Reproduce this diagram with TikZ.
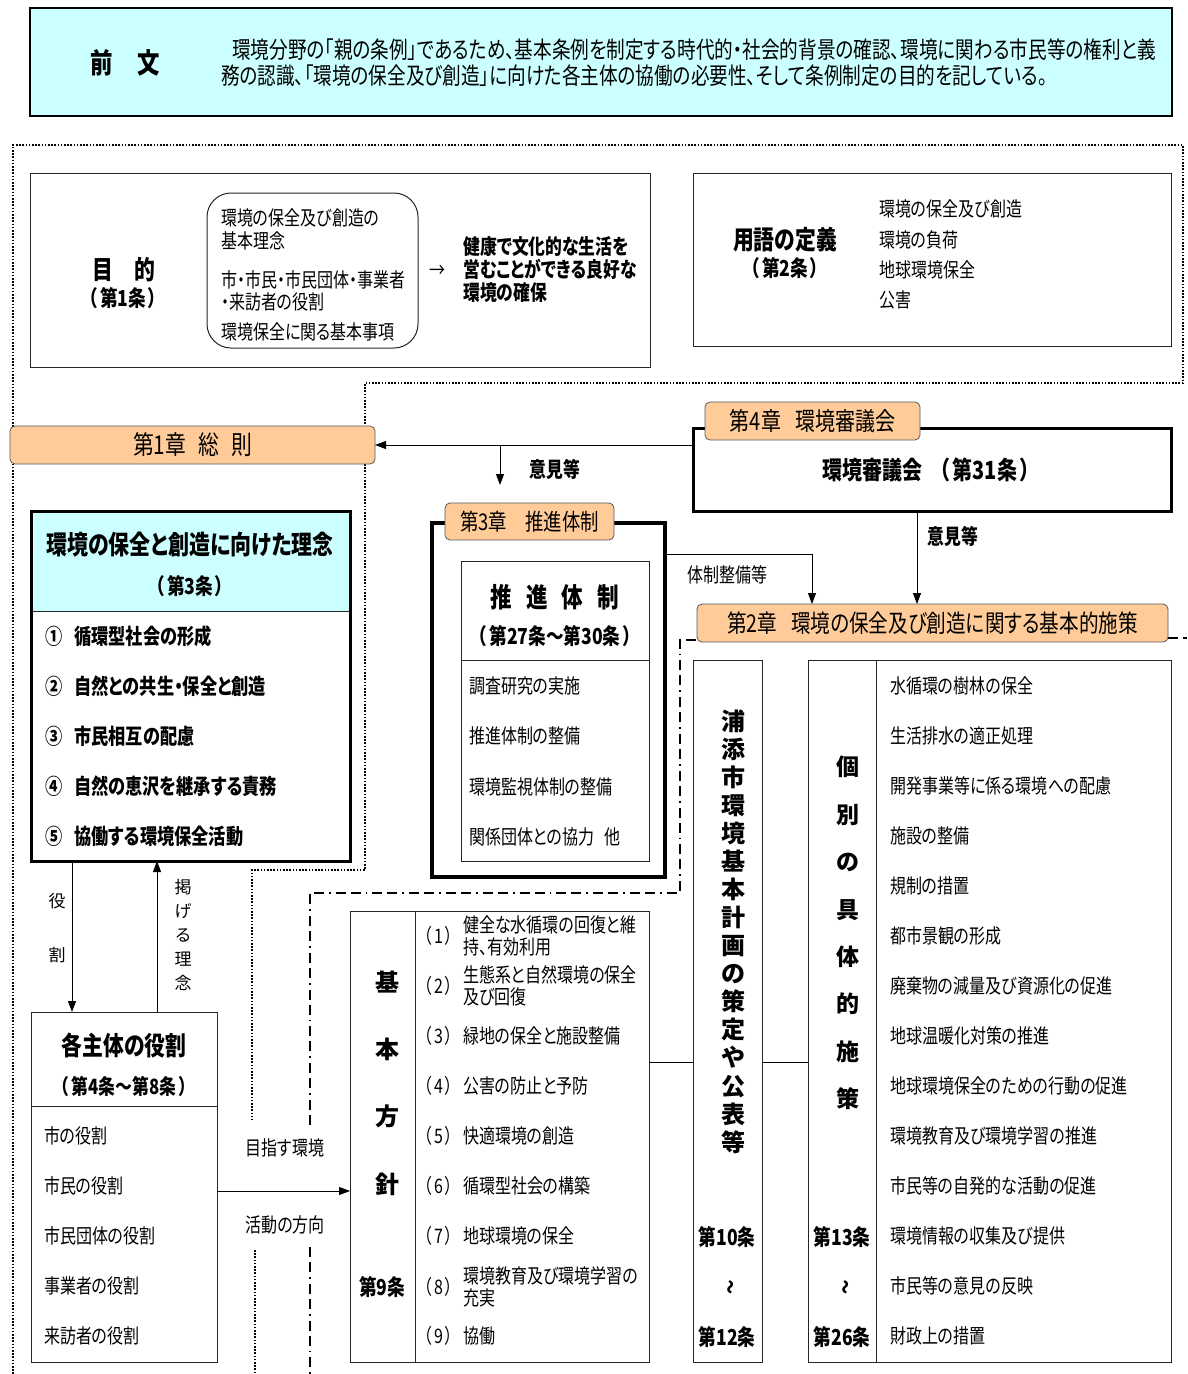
\documentclass[tikz,border=0pt]{standalone}
\usepackage{fontspec}
\setmainfont{Noto Sans CJK JP}[FakeStretch=0.8,RawFeature=+palt]
\newfontfamily\jpwide{Noto Sans CJK JP}
\newfontfamily\jpnp{Noto Sans CJK JP}[FakeStretch=0.8]
\usetikzlibrary{arrows.meta}
\definecolor{peach}{HTML}{FFCC99}
\definecolor{lcyan}{HTML}{CCFFFF}
\newcommand\fs[2]{\fontsize{#1}{#2}\selectfont}
\newcommand\mkbox[7]{\node[#6, inner sep=0pt, outer sep=0pt, anchor=north west, minimum width={(#4)-(#2)}, minimum height={(#5)-(#3)}] (#1) at (#2,#3) {#7};}
\newcommand\pa[1]{（\hspace{2pt}#1\hspace{2pt}）}
\tikzset{
  thinbox/.style={draw=black!85, line width=1pt},
  thickbox/.style={draw=black, line width=3pt},
  peachbox/.style={draw=black!65, fill=peach, rounded corners=5pt, line width=0.8pt},
  txt/.style={inner sep=0pt, anchor=west},
  ctxt/.style={inner sep=0pt, anchor=center},
  arr/.style={-{Triangle[length=11pt,width=8pt]}, line width=0.9pt},
  dotline/.style={line width=1.8pt, dash pattern=on 1.6pt off 1.6pt},
  dashdot/.style={line width=1.8pt, dash pattern=on 10pt off 5pt on 10pt off 5pt on 1.8pt off 5pt},
}
\begin{document}
\begin{tikzpicture}[x=1pt,y=-1pt]
\useasboundingbox (0,0) rectangle (1187,1374);
\fill[white] (0,0) rectangle (1187,1374);

% ---------- region borders ----------
\draw[dotline] (13,1374) -- (13,145) -- (1183,145) -- (1183,383) -- (365,383) -- (365,870) -- (252,870) -- (252,1120);
\draw[dotline] (255,1250) -- (255,1374);
\draw[dashdot] (310,1125) -- (310,893) -- (680,893) -- (680,640) -- (697,640);
\draw[dashdot] (1168,638) -- (1187,638);
\draw[dashdot] (310,1247) -- (310,1374);

% ---------- preamble ----------
\mkbox{pre}{30}{8}{1172}{116}{draw=black, line width=2.8pt, fill=lcyan}{}
\node[ctxt, font=\bfseries\fs{28}{30}] (pretitle) at (125,63) {前\hspace{25pt}文};
\node[txt, align=left, font=\fs{23.3}{26}] (pretext) at (221,63) {\hspace*{11pt}環境分野の「親の条例」であるため、基本条例を制定する時代的・社会的背景の確認、環境に関わる市民等の権利と義\\務の認識、「環境の保全及び創造」に向けた各主体の協働の必要性、そして条例制定の目的を記している。};

% ---------- purpose ----------
\mkbox{purpose}{30}{173}{650}{367}{thinbox}{}
\node[ctxt, font=\bfseries\fs{26}{28}] (ptitle) at (124,270) {目\hspace{22pt}的};
\node[ctxt, font=\jpnp\bfseries\fs{22}{24}] (part) at (123,298) {\pa{第1条}};
\mkbox{pround}{207}{193}{418}{348}{thinbox, rounded corners=24pt}{}
\node[txt, align=left, font=\fs{20}{23}] (p1) at (221,229.5) {環境の保全及び創造の\\基本理念};
\node[txt, align=left, font=\fs{20}{22}] (p2) at (221,291) {市・市民・市民団体・事業者\\・来訪者の役割};
\node[txt, font=\fs{20}{22}] (p3) at (221,332) {環境保全に関る基本事項};
\node[ctxt, font=\fs{20}{22}] (parrow) at (437,271) {→};
\node[txt, align=left, font=\bfseries\fs{21}{23}] (pgoal) at (463,270) {健康で文化的な生活を\\営むことができる良好な\\環境の確保};

% ---------- definitions ----------
\mkbox{defn}{693}{173}{1171}{346}{thinbox}{}
\node[ctxt, font=\bfseries\fs{26}{28}] (dtitle) at (785,240) {用語の定義};
\node[ctxt, font=\jpnp\bfseries\fs{22}{24}] (dart) at (785,268) {\pa{第2条}};
\node[txt, align=left, font=\fs{20}{30.3}] (dlist) at (879,254.8) {環境の保全及び創造\\環境の負荷\\地球環境保全\\公害};

% ---------- chapter 1 ----------
\mkbox{ch1}{10}{426}{375}{464}{peachbox, font=\fs{26}{28}}{第1章\hspace{12pt}総\hspace{12pt}則}

% ---------- chapter 4 ----------
\mkbox{council}{693}{428}{1171}{511}{thickbox}{}
\mkbox{ch4}{705}{402}{920}{440}{peachbox, font=\fs{25}{27}}{第4章\hspace{14pt}環境審議会}
\node[ctxt, font=\jpnp\bfseries\fs{25}{27}] (ctitle) at (931,470) {環境審議会\hspace{8pt}（\hspace{2pt}第31条\hspace{2pt}）};

% ---------- chapter 3 ----------
\mkbox{ch3box}{432}{523}{665}{877}{draw=black, line width=3.5pt}{}
\mkbox{ch3}{445}{503}{614}{540}{peachbox, font=\fs{23}{25}}{第3章\hspace{18pt}推進体制}
\mkbox{promo}{461}{561}{649}{861}{thinbox}{}
\draw[line width=1pt, black!85] (461,660) -- (649,660);
\node[ctxt, font=\bfseries\fs{27}{29}] (prtitle) at (555,597) {推\hspace{14pt}進\hspace{14pt}体\hspace{14pt}制};
\node[ctxt, font=\jpnp\bfseries\fs{22}{24}] (prart) at (555,636) {\pa{第27条～第30条}};
\node[txt, font=\fs{20}{22}] (pr1) at (469,686) {調査研究の実施};
\node[txt, font=\fs{20}{22}] (pr2) at (469,736) {推進体制の整備};
\node[txt, font=\fs{20}{22}] (pr3) at (469,787) {環境監視体制の整備};
\node[txt, font=\fs{20}{22}] (pr4) at (469,837) {関係団体との協力\hspace{10pt}他};

% ---------- chapter 2 ----------
\mkbox{ch2}{697}{604}{1168}{642}{peachbox, font=\fs{24.5}{27}}{第2章\hspace{14pt}環境の保全及び創造に関する基本的施策}

% ---------- theory ----------
\fill[lcyan] (31,511) rectangle (350,611);
\draw[line width=1pt, black!85] (31,611) -- (350,611);
\mkbox{theory}{31}{511}{350}{861}{thickbox}{}
\node[ctxt, font=\bfseries\fs{26.2}{28}] (ttitle) at (190,545) {環境の保全と創造に向けた理念};
\node[ctxt, font=\jpnp\bfseries\fs{22}{24}] (tart) at (190,586) {\pa{第3条}};
\node[txt, font=\bfseries\fs{21.5}{23}] (t1) at (45,636) {①\hspace{12pt}循環型社会の形成};
\node[txt, font=\bfseries\fs{21.5}{23}] (t2) at (45,686) {②\hspace{12pt}自然との共生・保全と創造};
\node[txt, font=\bfseries\fs{21.5}{23}] (t3) at (45,736) {③\hspace{12pt}市民相互の配慮};
\node[txt, font=\bfseries\fs{21.5}{23}] (t4) at (45,786) {④\hspace{12pt}自然の恵沢を継承する責務};
\node[txt, font=\bfseries\fs{21.5}{23}] (t5) at (45,836) {⑤\hspace{12pt}協働する環境保全活動};

% ---------- roles ----------
\mkbox{roles}{31}{1012}{217}{1362}{thinbox}{}
\draw[line width=1pt, black!85] (31,1106) -- (217,1106);
\node[ctxt, font=\bfseries\fs{26}{28}] (rtitle) at (124,1046) {各主体の役割};
\node[ctxt, font=\jpnp\bfseries\fs{21}{24}] (rart) at (124,1086) {\pa{第4条～第8条}};
\node[txt, font=\fs{20}{22}] (r1) at (44,1136) {市の役割};
\node[txt, font=\fs{20}{22}] (r2) at (44,1186) {市民の役割};
\node[txt, font=\fs{20}{22}] (r3) at (44,1236) {市民団体の役割};
\node[txt, font=\fs{20}{22}] (r4) at (44,1286) {事業者の役割};
\node[txt, font=\fs{20}{22}] (r5) at (44,1336) {来訪者の役割};

% ---------- basic policy ----------
\mkbox{policy}{350}{911}{649}{1362}{thinbox}{}
\draw[line width=1pt, black!85] (415,911) -- (415,1362);
\node[ctxt, align=center, font=\jpwide\bfseries\fs{24}{67.3}] (pvert) at (387,1083) {基\\本\\方\\針};
\node[ctxt, font=\bfseries\fs{22}{24}] (p9) at (382,1287) {第9条};
\foreach \n/\y in {1/936,2/986,3/1036,4/1086,5/1136,6/1186,7/1236,8/1287,9/1336}{
  \node[txt, font=\fs{20}{22}] (pn\n) at (424,\y) {（\hspace{2pt}\n\hspace{2pt}）};
}
\node[txt, align=left, font=\fs{20}{22}] (pi1) at (463,936) {健全な水循環の回復と維\\持、有効利用};
\node[txt, align=left, font=\fs{20}{22}] (pi2) at (463,986) {生態系と自然環境の保全\\及び回復};
\node[txt, font=\fs{20}{22}] (pi3) at (463,1036) {緑地の保全と施設整備};
\node[txt, font=\fs{20}{22}] (pi4) at (463,1086) {公害の防止と予防};
\node[txt, font=\fs{20}{22}] (pi5) at (463,1136) {快適環境の創造};
\node[txt, font=\fs{20}{22}] (pi6) at (463,1186) {循環型社会の構築};
\node[txt, font=\fs{20}{22}] (pi7) at (463,1236) {地球環境の保全};
\node[txt, align=left, font=\fs{20}{22}] (pi8) at (463,1287) {環境教育及び環境学習の\\充実};
\node[txt, font=\fs{20}{22}] (pi9) at (463,1336) {協働};

% ---------- plan ----------
\mkbox{plan}{693}{660}{762}{1362}{thinbox}{}
\node[ctxt, align=center, font=\jpwide\bfseries\fs{24}{28.07}] (planv) at (733,931.5) {浦\\添\\市\\環\\境\\基\\本\\計\\画\\の\\策\\定\\や\\公\\表\\等};
\node[ctxt, font=\bfseries\fs{22}{24}] (pl10) at (727,1237) {第10条};
\node[ctxt, font=\bfseries\fs{18}{20}] (pltil) at (733,1287) {\rotatebox{90}{～}};
\node[ctxt, font=\bfseries\fs{22}{24}] (pl12) at (727,1337) {第12条};

% ---------- individual measures ----------
\mkbox{indiv}{808}{660}{1171}{1362}{thinbox}{}
\draw[line width=1pt, black!85] (876,660) -- (876,1362);
\node[ctxt, align=center, font=\jpwide\bfseries\fs{23}{47.4}] (ivert) at (848,933) {個\\別\\の\\具\\体\\的\\施\\策};
\node[ctxt, font=\bfseries\fs{22}{24}] (in13) at (842,1237) {第13条};
\node[ctxt, font=\bfseries\fs{18}{20}] (intil) at (848,1287) {\rotatebox{90}{～}};
\node[ctxt, font=\bfseries\fs{22}{24}] (in26) at (842,1337) {第26条};
\foreach \t [count=\k from 0] in {水循環の樹林の保全,生活排水の適正処理,開発事業等に係る環境への配慮,施設の整備,規制の措置,都市景観の形成,廃棄物の減量及び資源化の促進,地球温暖化対策の推進,地球環境保全のための行動の促進,環境教育及び環境学習の推進,市民等の自発的な活動の促進,環境情報の収集及び提供,市民等の意見の反映,財政上の措置}{
  \node[txt, font=\fs{20}{22}] (it\k) at (890,686+50*\k) {\t};
}

% ---------- connectors ----------
\coordinate (optip) at (500,485);
\coordinate (xc2) at (917,0);
\coordinate (xc3) at (812,0);
\coordinate (yc3) at (0,554);
\coordinate (xrole) at (72,0);
\coordinate (xideal) at (157,0);
\coordinate (ylink) at (0,1062);

\draw[arr] (council.west |- ch1.east) -- (ch1.east);
\draw[arr] (ch1.east -| optip) -- (optip);
\node[ctxt, font=\bfseries\fs{21}{23}] (lop1) at (555,469) {意見等};

\draw[arr] (council.south -| xc2) -- (ch2.north -| xc2);
\node[ctxt, font=\bfseries\fs{21}{23}] (lop2) at (953,536) {意見等};

\draw[arr] (ch3box.east |- yc3) -| (ch2.north -| xc3);
\node[ctxt, font=\fs{20}{22}] (ltai) at (727,575) {体制整備等};

\draw[arr] (theory.south -| xrole) -- (roles.north -| xrole);
\draw[arr] (roles.north -| xideal) -- (theory.south -| xideal);
\node[ctxt, font=\jpwide\fs{17}{19}] (lyaku) at (57,901) {役};
\node[ctxt, font=\jpwide\fs{17}{19}] (lwari) at (57,955) {割};
\node[ctxt, align=center, font=\jpwide\fs{17}{24}] (lideal) at (183,935) {掲\\げ\\る\\理\\念};

\draw[arr] ([yshift=-4pt]roles.east) -- ([yshift=-4pt]roles.east -| policy.west);
\node[ctxt, font=\fs{20}{22}] (lmezasu) at (285,1148) {目指す環境};
\node[ctxt, font=\fs{20}{22}] (lkatsudo) at (285,1225) {活動の方向};

\draw[line width=1pt] (policy.east |- ylink) -- (plan.west |- ylink);
\draw[line width=1pt] (plan.east |- ylink) -- (indiv.west |- ylink);
\end{tikzpicture}
\end{document}
